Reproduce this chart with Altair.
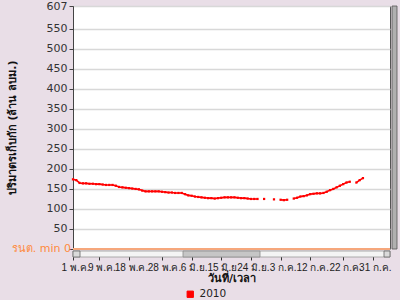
import altair as alt
import pandas as pd

# ---- data ----
start = "2010-05-01"
volumes = [
    174, 172, 165, 164, 164, 163, 163, 162, 162, 161,
    160, 160, 160, 158, 155, 154, 153, 152, 151, 150,
    149, 146, 144, 144, 144, 144, 144, 143, 142, 141,
    141, 140, 140, 140, 137, 134, 133, 131, 130, 129,
    128, 127, 127, 126, 127, 128, 129, 129, 129, 129,
    128, 127, 127, 126, 125, 125, 125, None, 125, None,
    None, 124, None, 123, 122, 123, None, 126, 128, 131,
    132, 134, 137, 138, 139, 139, 140, 143, 147, 150,
    154, 158, 162, 166, 168, None, 166, 172, 177,
]
series_name = "2010"
y_ticks = [0, 50, 100, 150, 200, 250, 300, 350, 400, 450, 500, 550, 607]
x_tick_dates = [(5, 1), (5, 9), (5, 18), (5, 28), (6, 6), (6, 15), (6, 24),
                (7, 3), (7, 12), (7, 22), (7, 31)]
thai_months = "['ม.ค.','ก.พ.','มี.ค.','เม.ย.','พ.ค.','มิ.ย.','ก.ค.','ส.ค.','ก.ย.','ต.ค.','พ.ย.','ธ.ค.']"

dates = pd.date_range(start, periods=len(volumes), freq="D")
seg, s = [], 0
for v in volumes:
    if v is None:
        s += 1
    seg.append(s)
df = pd.DataFrame({"date": dates.strftime("%Y-%m-%d"), "vol": volumes, "seg": seg,
                   "series": series_name})
df = df[df["vol"].notna()]

W, H = 317, 243
FONT = "DejaVu Sans"
XFONT = "Liberation Sans Narrow, Liberation Sans"
xscale = alt.Scale(type="utc", domain=[alt.DateTime(year=2010, month=5, date=1, utc=True),
                                       alt.DateTime(year=2010, month=8, date=5, hours=5, utc=True)])
yscale = alt.Scale(domain=[0, 607], nice=False)

x_axis = alt.Axis(
    values=[alt.DateTime(year=2010, month=m, date=d, utc=True) for m, d in x_tick_dates],
    labelExpr="utcdate(datum.value) + ' ' + " + thai_months + "[utcmonth(datum.value)]",
    labelOverlap=False, labelBound=False, labelFlush=False, offset=7, domain=False, grid=False,
    tickColor="#333", tickSize=4, labelColor="#222", labelFontSize=10, labelFont=XFONT,
    labelPadding=2, labelOffset=2, title="วันที่/เวลา", titleFont=FONT, titleFontSize=11,
    titleFontWeight="bold", titleColor="#111", titlePadding=0,
)
y_axis = alt.Axis(
    values=y_ticks, labelExpr="datum.value == 0 ? '' : datum.label",
    labelOverlap=False, labelBound=False,
    grid=True, gridColor="#D8D8D8", gridWidth=1.5, domainColor="#444",
    tickColor="#444", tickSize=4, labelColor="#333", labelFontSize=11, labelFont=FONT,
    labelPadding=2, title="ปริมาตรเก็บกัก (ล้าน ลบม.)", titleFont=FONT, titleFontSize=11,
    titleFontWeight="bold", titleColor="#111", titleX=-56, titleY=H / 2,
)

base = alt.Chart(df)

line = base.mark_line(strokeWidth=1.6).encode(
    x=alt.X("date:T", scale=xscale, axis=x_axis),
    y=alt.Y("vol:Q", scale=yscale, axis=y_axis),
    detail="seg:N",
    color=alt.Color("series:N", scale=alt.Scale(range=["#FF0000"]),
                    legend=alt.Legend(title=None, orient="none", legendX=112, legendY=283,
                                      symbolType="square", symbolSize=40,
                                      symbolStrokeColor="#660000", symbolStrokeWidth=1,
                                      labelFont=FONT, labelFontSize=10.5, labelColor="#222")),
)
pts = base.mark_point(shape="square", filled=True, size=5, opacity=1).encode(
    x=alt.X("date:T", scale=xscale, axis=x_axis),
    y=alt.Y("vol:Q", scale=yscale, axis=y_axis),
    color=alt.Color("series:N", legend=None),
)

# orange minimum line and label
min_df = pd.DataFrame({"v": [0], "lab": ["รนต. min 0"]})
min_rule = alt.Chart(min_df).mark_rule(color="#F6A77C", strokeWidth=2).encode(
    y=alt.Y("v:Q", scale=yscale, axis=y_axis), x=alt.value(0), x2=alt.value(W))
min_text = alt.Chart(min_df).mark_text(align="right", baseline="middle", color="#FF8A3D",
                                       font=FONT, fontSize=11).encode(
    y=alt.Y("v:Q", scale=yscale, axis=y_axis), x=alt.value(-2), text="lab:N")

# scrollbars (decoration)
track = alt.Chart(min_df).mark_rect(fill="#F4F4F4", stroke="#9A9A9A", strokeWidth=0.8).encode(
    x=alt.value(0), x2=alt.value(W), y=alt.value(H + 2), y2=alt.value(H + 8))
thumb = alt.Chart(min_df).mark_rect(fill="#C6C6C6", stroke="#8A8A8A", strokeWidth=0.8).encode(
    x=alt.value(110), x2=alt.value(187), y=alt.value(H + 2), y2=alt.value(H + 8))
larrow = alt.Chart(min_df).mark_rect(fill="#DADADA", stroke="#666", strokeWidth=0.8).encode(
    x=alt.value(0), x2=alt.value(7), y=alt.value(H + 2), y2=alt.value(H + 8))
rarrow = alt.Chart(min_df).mark_rect(fill="#DADADA", stroke="#666", strokeWidth=0.8).encode(
    x=alt.value(W - 6), x2=alt.value(W), y=alt.value(H + 2), y2=alt.value(H + 8))
vbar = alt.Chart(min_df).mark_rect(fill="#B0B0B0", stroke="#555", strokeWidth=0.8).encode(
    x=alt.value(W + 2), x2=alt.value(W + 7), y=alt.value(0), y2=alt.value(H))

chart = alt.layer(min_rule, line, pts, min_text, track, thumb, larrow, rarrow, vbar).properties(
    width=W, height=H,
    autosize=alt.AutoSizeParams(type="none"),
    padding={"left": 73, "top": 6, "right": 10, "bottom": 51},
    background="#E9DEE7",
).configure_view(fill="white", stroke="#555", strokeWidth=1)

chart.save("out.html", embed_options={"renderer": "svg", "actions": False})
